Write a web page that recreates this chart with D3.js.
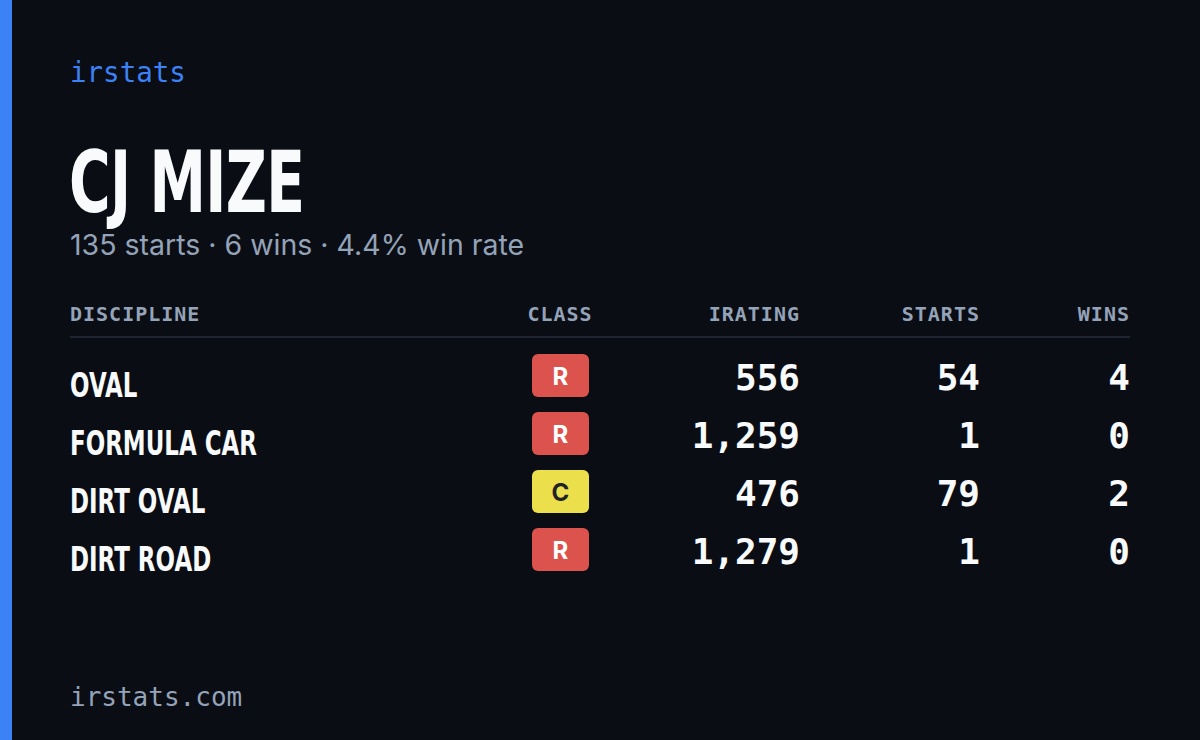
<!DOCTYPE html>
<html><head><meta charset="utf-8">
<script src="https://cdn.jsdelivr.net/npm/d3@7"></script>
<style>body{margin:0;background:#0a0d14;}svg{display:block}</style>
</head><body><svg id="c" width="1200" height="740"></svg>
<script>
const disciplines = ["OVAL","FORMULA CAR","DIRT OVAL","DIRT ROAD"];
const classes = ["R","R","C","R"];
const iratings = [556,1259,476,1279];
const starts = [54,1,79,1];
const wins = [4,0,2,0];
const headers = ["DISCIPLINE","CLASS","IRATING","STARTS","WINS"];
const driver = "CJ MIZE";
const subtitle = "135 starts · 6 wins · 4.4% win rate";

const svg = d3.select("#c");
const mono = "'DejaVu Sans Mono', monospace";
const cond = "'DejaVu Sans',sans-serif";
svg.append("rect").attr("width",1200).attr("height",740).attr("fill","#0a0d14");
svg.append("rect").attr("width",12).attr("height",740).attr("fill","#3b82f6");
svg.append("text").attr("x",70).attr("y",82).attr("fill","#3b82f6").attr("font-family",mono).attr("font-size",27.5).text("irstats");
svg.append("text").attr("transform","translate(69,212) scale(0.66,1)").attr("fill","#f8fafc").attr("font-family",cond).attr("font-weight",700).attr("font-size",86).attr("letter-spacing",-1).text(driver);
svg.append("text").attr("x",70).attr("y",255).attr("fill","#94a3b8").attr("font-family","Inter, sans-serif").attr("font-size",28.5).text(subtitle);

const cols = [{x:70,a:"start"},{x:560,a:"middle"},{x:800,a:"end"},{x:980,a:"end"},{x:1130,a:"end"}];
headers.forEach((h,i)=>svg.append("text").attr("x",cols[i].x).attr("y",321).attr("text-anchor",cols[i].a)
  .attr("fill","#94a3b8").attr("font-family",mono).attr("font-weight",600).attr("font-size",20).attr("letter-spacing",1).text(h));
svg.append("line").attr("x1",70).attr("x2",1130).attr("y1",337).attr("y2",337).attr("stroke","#1f2530").attr("stroke-width",2);

const y = d3.scaleBand().domain(disciplines).range([348,580]).paddingInner(0);
const fmt = d3.format(",");
const classColor = {R:"#dc524c",C:"#ecdf4c",D:"#f08a24",B:"#4ade80",A:"#3b82f6"};
const g = svg.selectAll("g.row").data(disciplines).join("g").attr("transform",d=>`translate(0,${y(d)+y.bandwidth()/2})`);
g.append("text").attr("transform","translate(70,20) scale(0.675,1)").attr("fill","#f8fafc").attr("font-family",cond).attr("font-weight",700).attr("font-size",34).text(d=>d);
g.append("rect").attr("x",532).attr("y",-23).attr("width",57).attr("height",43).attr("rx",6).attr("fill",(d,i)=>classColor[classes[i]]);
g.append("text").attr("x",560.5).attr("y",8).attr("text-anchor","middle").attr("font-family","Inter, sans-serif").attr("font-weight",700).attr("font-size",24)
  .attr("fill",(d,i)=>classes[i]==="C"?"#1f2328":"#ffffff").text((d,i)=>classes[i]);
[[iratings,800],[starts,980],[wins,1130]].forEach(([arr,x])=>{
  g.append("text").attr("x",x).attr("y",13).attr("text-anchor","end").attr("fill","#f8fafc").attr("font-family",mono).attr("font-weight",700).attr("font-size",36).text((d,i)=>fmt(arr[i]));
});
svg.append("text").attr("x",70).attr("y",706).attr("fill","#94a3b8").attr("font-family",mono).attr("font-size",26).text("irstats.com");
</script></body></html>
